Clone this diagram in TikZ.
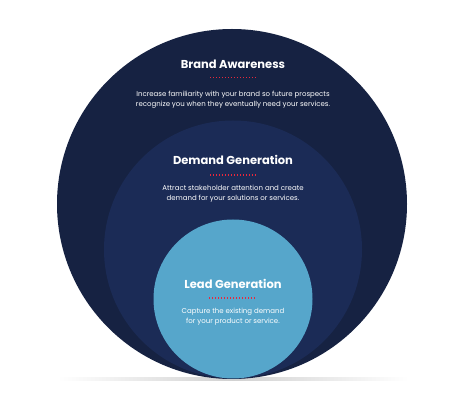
\documentclass[tikz,border=0pt]{standalone}
\usepackage{fontspec}
\setmainfont{Poppins}
\usepackage{xcolor}
\usetikzlibrary{positioning}
\definecolor{navydeep}{HTML}{162242}
\definecolor{navymid}{HTML}{1B2B56}
\definecolor{skyblue}{HTML}{56A6CB}
\definecolor{dotred}{HTML}{E8283C}

\tikzset{
  ring/.style={circle, draw=none, inner sep=0pt},
  stagetitle/.style={text=white, font=\bfseries\fontsize{11.5}{13}\selectfont, inner sep=0pt},
  stagetext/.style={text=white, align=center, font=\fontsize{7}{9.6}\selectfont, inner sep=0pt},
  sepline/.style={dotred, line width=1.3pt, dash pattern=on 1.2pt off 1.8pt}
}

\begin{document}
\begin{tikzpicture}[x=1pt, y=-1pt]
  \useasboundingbox (0,0) rectangle (474,411);
  \fill[white] (0,0) rectangle (474,411);
  % ground shadow
  \shade[left color=white, right color=white, middle color=black!18] (58,377.5) rectangle (408,380.5);
  % nested circles
  \node[ring, fill=navydeep, minimum size=350pt] (awareness) at (232,204) {};
  \node[ring, fill=navymid, minimum size=258pt] (demand) at (233,249.5) {};
  \node[ring, fill=skyblue, minimum size=159pt] (lead) at (233,299) {};
  % labels
  \node[stagetitle] (awarenesstitle) at (233,64) {Brand Awareness};
  \draw[sepline] (210,77.5) -- (257,77.5);
  \node[stagetext] (awarenesstext) at (233,99.5) {Increase familiarity with your brand so future prospects\\recognize you when they eventually need your services.};
  \node[stagetitle] (demandtitle) at (233,160) {Demand Generation};
  \draw[sepline] (210,175) -- (257,175);
  \node[stagetext] (demandtext) at (233,194) {Attract stakeholder attention and create\\demand for your solutions or services.};
  \node[stagetitle] (leadtitle) at (233,284) {Lead Generation};
  \draw[sepline] (209,298) -- (255,298);
  \node[stagetext] (leadtext) at (233,317) {Capture the existing demand\\for your product or service.};
\end{tikzpicture}
\end{document}
